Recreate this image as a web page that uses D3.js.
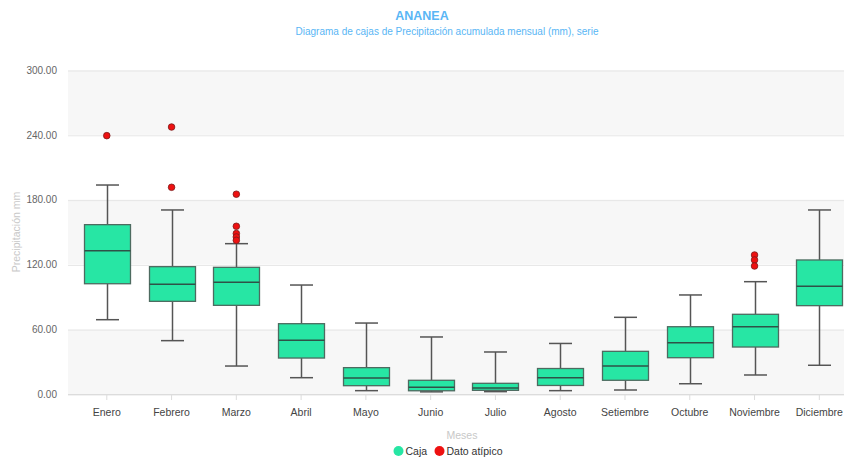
<!DOCTYPE html>
<html>
<head>
<meta charset="utf-8">
<script src="https://cdn.jsdelivr.net/npm/d3@7/dist/d3.min.js"></script>
<style>
  html, body { margin: 0; padding: 0; background: #fff; }
  svg { display: block; font-family: "Liberation Sans", Arial, sans-serif; }
</style>
</head>
<body>
<svg id="chart" width="844" height="459"></svg>
<script>
const categories = ["Enero","Febrero","Marzo","Abril","Mayo","Junio","Julio","Agosto","Setiembre","Octubre","Noviembre","Diciembre"];
const lowWhisker = [68.8, 49.4, 25.9, 15.1, 3.1, 2.0, 2.2, 3.1, 3.7, 9.5, 17.6, 26.6];
const q1Values   = [102.1, 85.8, 82.1, 33.3, 7.7, 3.0, 3.4, 7.9, 12.7, 33.6, 43.5, 81.8];
const medians    = [132.7, 101.6, 103.4, 49.7, 14.8, 6.2, 5.6, 15.0, 25.9, 47.5, 62.3, 99.7];
const q3Values   = [156.8, 117.9, 117.3, 65.1, 24.4, 12.7, 9.9, 23.6, 39.5, 62.3, 73.8, 124.1];
const highWhisker= [193.5, 170.4, 139.2, 100.9, 65.7, 52.8, 38.9, 46.8, 71.0, 91.7, 104.0, 170.4];
const outlierMonths = ["Enero","Febrero","Febrero","Marzo","Marzo","Marzo","Marzo","Marzo","Noviembre","Noviembre","Noviembre"];
const outlierValues = [239.2, 247.2, 191.4, 185.0, 155.3, 148.6, 145.4, 142.3, 128.7, 124.1, 118.5];
const yTicks = [0, 60, 120, 180, 240, 300];

const title = "ANANEA";
const subtitle = "Diagrama de cajas de Precipitación acumulada mensual (mm), serie";
const yTitle = "Precipitación mm";
const xTitle = "Meses";
const legendItems = [{name: "Caja", color: "#27e6a4"}, {name: "Dato atípico", color: "#ee1111"}];

const svg = d3.select("#chart");
const plotLeft = 68, plotRight = 844, plotTop = 70, plotBottom = 394;

const x = d3.scaleBand().domain(categories).range([74.4, 851.7]).paddingInner(0).paddingOuter(0);
const y = d3.scaleLinear().domain([0, 300]).range([plotBottom, plotTop]);

// alternate bands
for (let i = 0; i < yTicks.length - 1; i += 2) {
  svg.append("rect")
    .attr("x", plotLeft).attr("width", plotRight - plotLeft)
    .attr("y", y(yTicks[i + 1])).attr("height", y(yTicks[i]) - y(yTicks[i + 1]))
    .attr("fill", "#f7f7f7");
}
// y grid + labels
const yAxis = d3.axisLeft(y).tickValues(yTicks).tickSize(plotLeft - plotRight).tickPadding(11)
  .tickFormat(d => d3.format(".2f")(d));
const gy = svg.append("g").attr("transform", `translate(${plotLeft},0)`).call(yAxis);
gy.select(".domain").remove();
gy.selectAll(".tick line").attr("stroke", "#e6e6e6").attr("stroke-width", 1).attr("transform", "translate(0,0.5)");
gy.selectAll(".tick text").attr("fill", "#666").attr("font-size", "10px").attr("x", -11);

// x axis
const xAxis = d3.axisBottom(x).tickSize(6).tickPadding(9);
const gx = svg.append("g").attr("transform", `translate(0,${plotBottom})`).call(xAxis);
gx.select(".domain").remove();
svg.append("line").attr("x1", plotLeft).attr("x2", plotRight).attr("y1", plotBottom + 0.5).attr("y2", plotBottom + 0.5)
  .attr("stroke", "#dcdcdc");
gx.selectAll(".tick line").attr("stroke", "#dcdcdc");
gx.selectAll(".tick text").attr("fill", "#444").attr("font-size", "10.5px");

// titles
svg.append("text").attr("x", 422).attr("y", 20).attr("text-anchor", "middle")
  .attr("font-size", "12.5px").attr("font-weight", "bold").attr("fill", "#59b6f5").text(title);
svg.append("text").attr("x", 447).attr("y", 35).attr("text-anchor", "middle")
  .attr("font-size", "10px").attr("fill", "#59b6f5").text(subtitle);
svg.append("text").attr("transform", `translate(20,${(plotTop + plotBottom) / 2}) rotate(-90)`)
  .attr("text-anchor", "middle").attr("font-size", "10.5px").attr("fill", "#c8c8c8").text(yTitle);
svg.append("text").attr("x", 462).attr("y", 439).attr("text-anchor", "middle")
  .attr("font-size", "10.5px").attr("fill", "#c8c8c8").text(xTitle);

// boxes
const boxW = x.bandwidth() * 0.71;
const capW = boxW / 2;
const stroke = "#555";
const g = svg.append("g");
categories.forEach((c, i) => {
  const cx = Math.round(x(c) + x.bandwidth() / 2) + 0.5;
  g.append("line").attr("x1", cx).attr("x2", cx).attr("y1", y(highWhisker[i])).attr("y2", y(q3Values[i]))
    .attr("stroke", stroke).attr("stroke-width", 1.5);
  g.append("line").attr("x1", cx).attr("x2", cx).attr("y1", y(q1Values[i])).attr("y2", y(lowWhisker[i]))
    .attr("stroke", stroke).attr("stroke-width", 1.5);
  g.append("line").attr("x1", cx - capW / 2).attr("x2", cx + capW / 2).attr("y1", y(highWhisker[i])).attr("y2", y(highWhisker[i]))
    .attr("stroke", stroke).attr("stroke-width", 1.5);
  g.append("line").attr("x1", cx - capW / 2).attr("x2", cx + capW / 2).attr("y1", y(lowWhisker[i])).attr("y2", y(lowWhisker[i]))
    .attr("stroke", stroke).attr("stroke-width", 1.5);
  g.append("rect").attr("x", cx - boxW / 2).attr("width", boxW)
    .attr("y", y(q3Values[i])).attr("height", y(q1Values[i]) - y(q3Values[i]))
    .attr("fill", "#27e6a4").attr("stroke", "#4d6b60").attr("stroke-width", 1.3);
  g.append("line").attr("x1", cx - boxW / 2).attr("x2", cx + boxW / 2).attr("y1", y(medians[i])).attr("y2", y(medians[i]))
    .attr("stroke", "#2f5247").attr("stroke-width", 1.5);
});
// outliers
outlierMonths.forEach((m, i) => {
  g.append("circle").attr("cx", x(m) + x.bandwidth() / 2).attr("cy", y(outlierValues[i])).attr("r", 3.3)
    .attr("fill", "#ee1111").attr("stroke", "#7a1d1d").attr("stroke-width", 0.8);
});

// legend
const lg = svg.append("g");
const lx = [398.5, 439.5];
legendItems.forEach((d, i) => {
  lg.append("circle").attr("cx", lx[i]).attr("cy", 451).attr("r", 5).attr("fill", d.color);
  lg.append("text").attr("x", lx[i] + 7).attr("y", 455).attr("font-size", "10.5px").attr("fill", "#333").text(d.name);
});
</script>
</body>
</html>
